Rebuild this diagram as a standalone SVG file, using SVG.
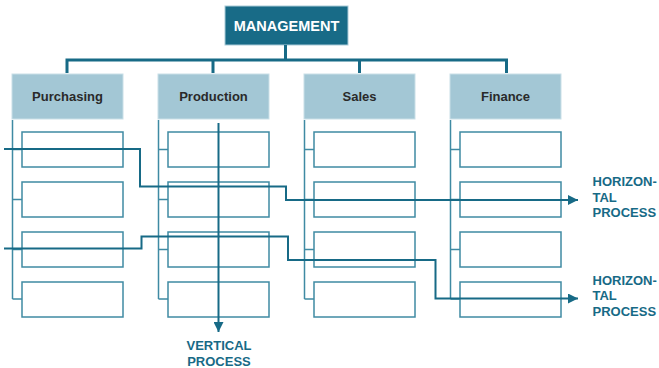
<svg xmlns="http://www.w3.org/2000/svg" width="659" height="368" viewBox="0 0 659 368">
<style>
.hdr{fill:#a3c7d5;stroke:#c9dfe7;stroke-width:1}
.hdrt{font-family:"Liberation Sans",Arial,sans-serif;font-weight:bold;font-size:13px;fill:#2a2a2a;text-anchor:middle}
.sub{fill:#fff;stroke:#3f8aa3;stroke-width:1.5}
.spine{fill:none;stroke:#3f8aa3;stroke-width:1.5}
.bus{fill:none;stroke:#176a86;stroke-width:3}
.proc{fill:none;stroke:#176a86;stroke-width:2}
.lbl{font-family:"Liberation Sans",Arial,sans-serif;font-weight:bold;font-size:13px;fill:#176a86}
</style>
<defs>
<marker id="ah" viewBox="0 0 10 10" refX="10" refY="5" markerWidth="5" markerHeight="5" orient="auto" markerUnits="strokeWidth">
<path d="M0,0 L10,5 L0,10 z" fill="#176a86"/>
</marker>
</defs>
<g id="management">
<rect x="225" y="6" width="123" height="39" fill="#186b87" stroke="#a9cbd8" stroke-width="1"/>
<text x="286.5" y="31" font-family="'Liberation Sans',Arial,sans-serif" font-weight="bold" font-size="14.5" fill="#fff" text-anchor="middle">MANAGEMENT</text>
</g>
<g id="connectors">
<path class="bus" d="M285.5,45 V60 M67,73 V60 H506.5 V73 M213,60 V73 M359.5,60 V73"/>
<path class="spine" d="M12.5,120 V299 M12.5,149.5 H22 M12.5,199.5 H22 M12.5,249.5 H22 M12.5,299 H22"/>
<path class="spine" d="M158.5,120 V299 M158.5,149.5 H168 M158.5,199.5 H168 M158.5,249.5 H168 M158.5,299 H168"/>
<path class="spine" d="M304.5,120 V299 M304.5,149.5 H314 M304.5,199.5 H314 M304.5,249.5 H314 M304.5,299 H314"/>
<path class="spine" d="M450.5,120 V299 M450.5,149.5 H460 M450.5,199.5 H460 M450.5,249.5 H460 M450.5,299 H460"/>
</g>
<g id="purchasing">
<rect class="hdr" x="12" y="74" width="111" height="45"/>
<text class="hdrt" x="67.5" y="101">Purchasing</text>
<rect class="sub" x="22" y="132" width="101" height="35"/>
<rect class="sub" x="22" y="182" width="101" height="35"/>
<rect class="sub" x="22" y="232" width="101" height="35"/>
<rect class="sub" x="22" y="282" width="101" height="35"/>
</g>
<g id="production">
<rect class="hdr" x="158" y="74" width="111" height="45"/>
<text class="hdrt" x="213.5" y="101">Production</text>
<rect class="sub" x="168" y="132" width="101" height="35"/>
<rect class="sub" x="168" y="182" width="101" height="35"/>
<rect class="sub" x="168" y="232" width="101" height="35"/>
<rect class="sub" x="168" y="282" width="101" height="35"/>
</g>
<g id="sales">
<rect class="hdr" x="304" y="74" width="111" height="45"/>
<text class="hdrt" x="359.5" y="101">Sales</text>
<rect class="sub" x="314" y="132" width="101" height="35"/>
<rect class="sub" x="314" y="182" width="101" height="35"/>
<rect class="sub" x="314" y="232" width="101" height="35"/>
<rect class="sub" x="314" y="282" width="101" height="35"/>
</g>
<g id="finance">
<rect class="hdr" x="450" y="74" width="111" height="45"/>
<text class="hdrt" x="505.5" y="101">Finance</text>
<rect class="sub" x="460" y="132" width="101" height="35"/>
<rect class="sub" x="460" y="182" width="101" height="35"/>
<rect class="sub" x="460" y="232" width="101" height="35"/>
<rect class="sub" x="460" y="282" width="101" height="35"/>
</g>
<g id="processes">
<path class="proc" d="M218.5,123 V332" marker-end="url(#ah)"/>
<path class="proc" d="M4,149 H140 V186.5 H286 V200 H578" marker-end="url(#ah)"/>
<path class="proc" d="M4,248.5 H141.5 V236.5 H288 V260 H435.5 V298.5 H578" marker-end="url(#ah)"/>
</g>
<g id="vertical-label">
<text class="lbl" x="219" y="350" text-anchor="middle">VERTICAL</text>
<text class="lbl" x="219" y="365.5" text-anchor="middle">PROCESS</text>
</g>
<g id="horizontal-label-1">
<text class="lbl" x="592.5" y="186">HORIZON-</text>
<text class="lbl" x="592.5" y="201.5">TAL</text>
<text class="lbl" x="592.5" y="217">PROCESS</text>
</g>
<g id="horizontal-label-2">
<text class="lbl" x="592.5" y="284.5">HORIZON-</text>
<text class="lbl" x="592.5" y="300">TAL</text>
<text class="lbl" x="592.5" y="315.5">PROCESS</text>
</g>
</svg>
